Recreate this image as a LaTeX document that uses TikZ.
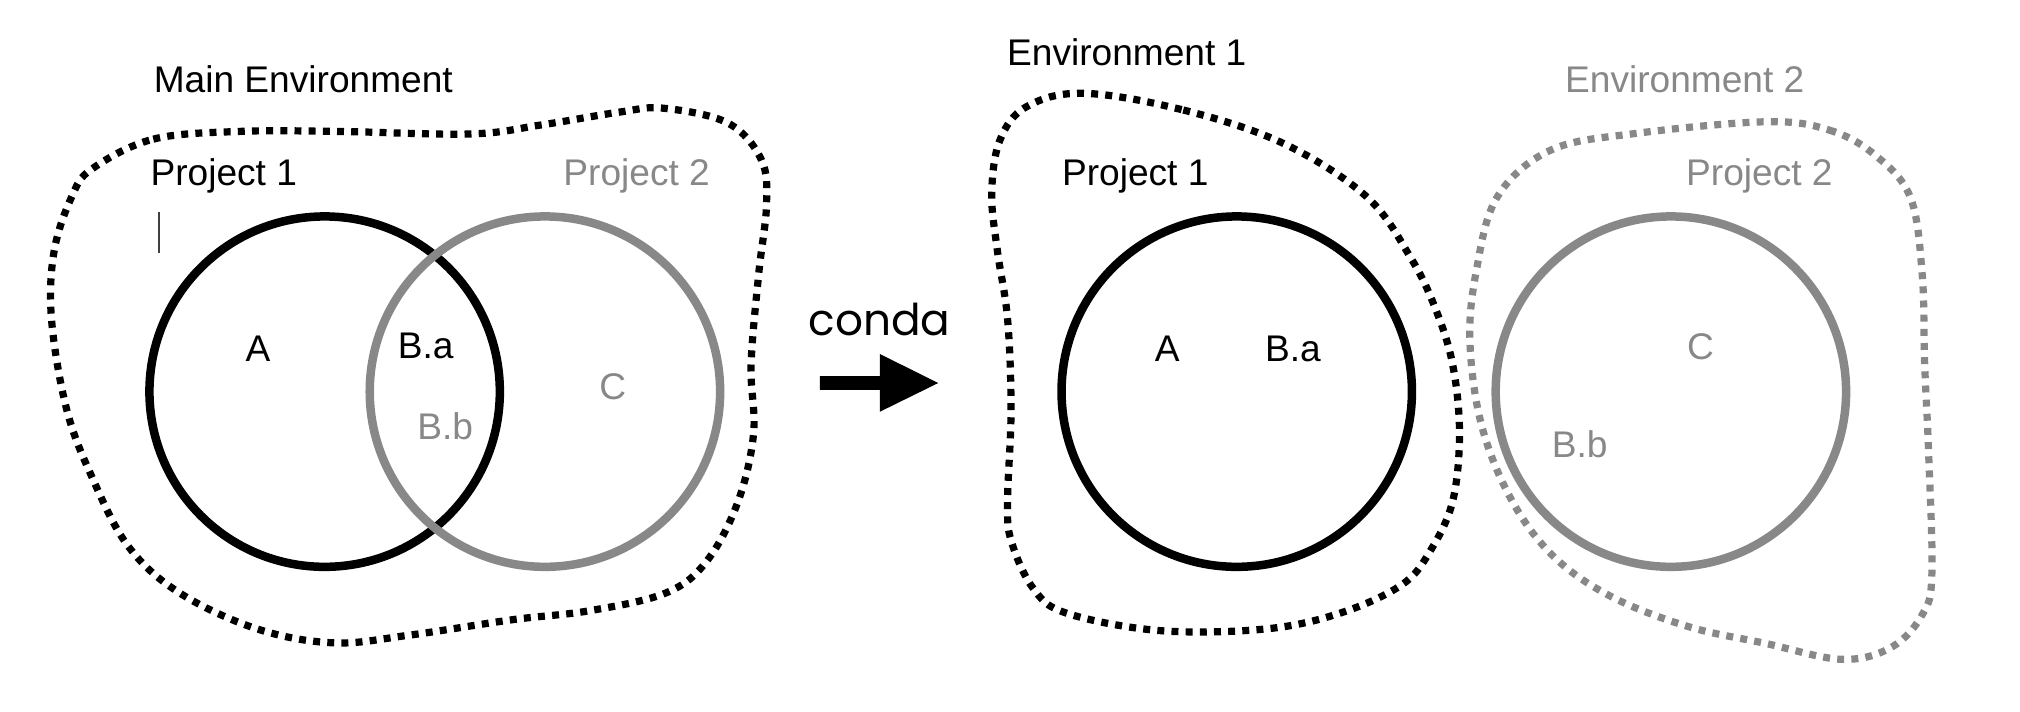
\documentclass[tikz,border=0pt]{standalone}
\usepackage{fontspec}
\setmainfont{Liberation Sans}
\newfontfamily\condafont{Poppins}
\definecolor{mgray}{RGB}{136,136,136}
\begin{document}
\begin{tikzpicture}[x=0.5pt, y=-0.5pt,
  lbl/.style={font=\fontsize{14.4}{17}\selectfont, inner sep=0pt, anchor=base west},
  ctr/.style={font=\fontsize{14.4}{17}\selectfont, inner sep=0pt},
  blob/.style={line width=2.8pt, line cap=butt, dash pattern=on 2.7pt off 2.8pt},
  ring/.style={draw, circle, line width=3.3pt, minimum size=136pt, inner sep=0pt},
]
\useasboundingbox (0,0) rectangle (1568,552);

% ---------- left: main environment ----------
\draw[blob, black] plot[smooth cycle, tension=0.6] coordinates {
  (71.7,130.9) (119,108) (186,102) (262,102) (365,104) (420,97) (481,87)
  (515,84) (565,95.5) (591,124) (595,159) (589,212) (583,283) (585,336)
  (573,389) (549,435) (517.5,460) (458,474) (398,481) (318,493) (259,499)
  (199,488) (139,460) (99.5,424) (71.7,371) (51.8,318) (40,248) (42,195) (56,152)};

\node[lbl] (mainenv) at (119,72) {Main Environment};
\node[lbl] (p1l) at (116.5,144) {Project 1};
\node[lbl, text=mgray] (p2l) at (437,144) {Project 2};
\draw[black!75, line width=0.45pt] (123.4,164.5) -- (123.4,196.3);

\node[ring, draw=black] (c1) at (252,304) {};
\node[ring, draw=mgray] (c2) at (423,304) {};

\node[ctr] (al) at (200.2,270.6) {A};
\node[ctr] (bal) at (330.4,268.8) {B.a};
\node[ctr, text=mgray] (bbl) at (345.5,330.7) {B.b};
\node[ctr, text=mgray] (cl) at (475.7,300) {C};

% ---------- conda arrow ----------
\node[font=\condafont\fontsize{17}{20}\selectfont, inner sep=0pt, anchor=base] (conda) at (682.7,260.8) {conda};
\fill[black] (636.5,292) -- (683,292) -- (683,274.8) -- (728.3,297.3) -- (683,319.6) -- (683,302.7) -- (636.5,302.7) -- cycle;

% ---------- right: environment 1 ----------
\draw[blob, black] plot[smooth cycle, tension=0.6] coordinates {
  (840.9,72.4) (918.5,85.4) (996.1,111.3) (1060.8,152.7) (1095,200) (1114.4,240)
  (1127.6,283) (1132.9,336) (1127.6,389.1) (1110,428) (1088,454) (1040.6,475.8)
  (982.5,488.2) (900.4,489.5) (828,476) (802,456.7) (785,420) (782.1,389.1)
  (784.8,318.4) (782.1,247.6) (774.2,194.6) (769.8,150) (776.2,108.7) (796.9,82.8)};

\node[lbl] (env1) at (781.4,50.5) {Environment 1};
\node[lbl] (p1r) at (824,143.6) {Project 1};
\node[ring, draw=black] (c3) at (960,304) {};
\node[ctr] (ar) at (906,270.6) {A};
\node[ctr] (bar) at (1003.6,270.6) {B.a};

% ---------- right: environment 2 ----------
\draw[blob, mgray] plot[smooth cycle, tension=0.6] coordinates {
  (1371,94.5) (1420,101) (1455,120) (1482.7,152.7) (1492,212) (1494,283)
  (1497,350) (1499.6,445) (1492.7,476.1) (1468.9,502) (1430,511.8) (1370.3,499.4)
  (1310.6,486.4) (1250.9,463.2) (1206.1,432.1) (1173.3,388.1) (1150,330)
  (1141,265) (1146,210) (1162.3,152.7) (1204,116.4) (1270.3,103.5)};

\node[lbl, text=mgray] (env2) at (1214.5,72) {Environment 2};
\node[lbl, text=mgray] (p2r) at (1308.5,143.6) {Project 2};
\node[ring, draw=mgray] (c4) at (1297,304) {};
\node[ctr, text=mgray] (cr) at (1320,268.8) {C};
\node[ctr, text=mgray] (bbr) at (1226.2,344.9) {B.b};
\end{tikzpicture}
\end{document}
